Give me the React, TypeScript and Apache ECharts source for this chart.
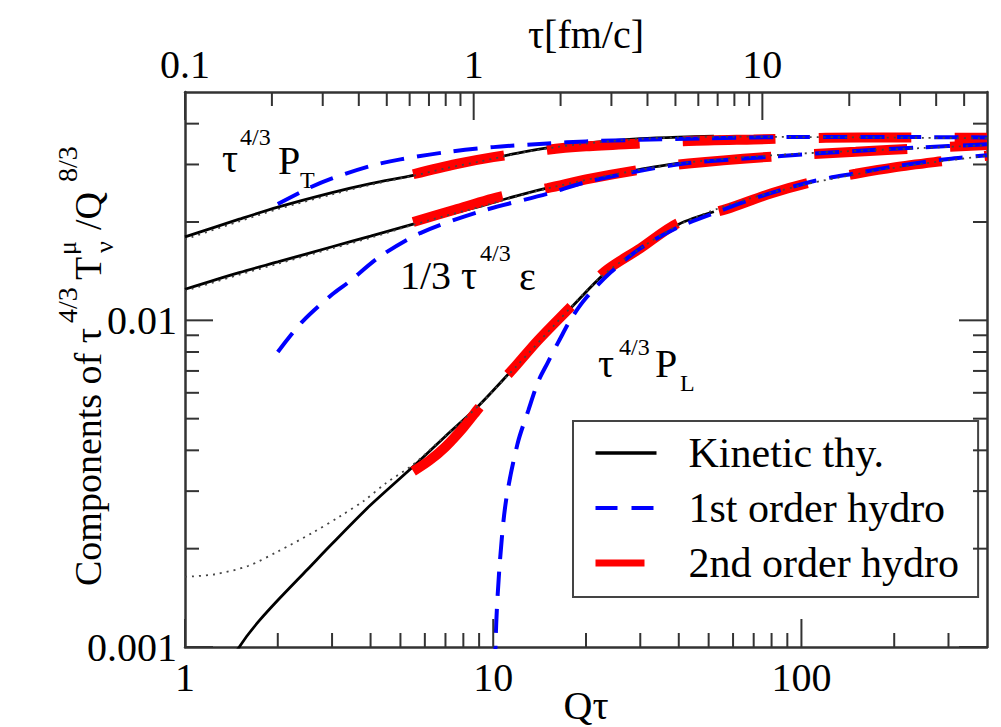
import React, { useEffect, useRef } from 'react';
import * as echarts from 'echarts';

// ---------- axis ranges & ticks ----------
const X_MIN = 1;
const X_MAX = 400;
const TAU_MIN = 0.1;
const TAU_MAX = 60;
const Y_MIN = 0.001;
const Y_MAX = 0.05;

const BOTTOM_MAJOR = [1, 10, 100];
const BOTTOM_MINOR = [2, 3, 4, 5, 6, 7, 8, 9, 20, 30, 40, 50, 60, 70, 80, 90, 200, 300];
const TOP_MAJOR = [0.1, 1, 10];
const TOP_MINOR = [0.2, 0.3, 0.4, 0.5, 0.6, 0.7, 0.8, 0.9, 2, 3, 4, 5, 6, 7, 8, 9, 20, 30, 40, 50];
const Y_MAJOR = [0.001, 0.01];
const Y_MINOR = [0.002, 0.003, 0.004, 0.005, 0.006, 0.007, 0.008, 0.009, 0.02, 0.03, 0.04];

// ---------- kinetic theory (solid black) ----------
const KIN_PT_X = [1, 1.5, 2, 3, 4, 5.5, 7, 9, 12, 16, 22, 30, 40, 52];
const KIN_PT_Y = [0.018, 0.0204, 0.0222, 0.0246, 0.0262, 0.0278, 0.0293, 0.0307, 0.0325, 0.034, 0.0352, 0.036, 0.0364, 0.0366];
const KIN_E_X = [1, 1.5, 2, 3, 4, 5.5, 7, 9, 12, 16, 22, 30, 40, 52];
const KIN_E_Y = [0.01245, 0.014, 0.0151, 0.0168, 0.0181, 0.0197, 0.021, 0.0223, 0.0241, 0.0258, 0.0275, 0.029, 0.0303, 0.0311];
const KIN_L_X = [1.4, 1.5, 1.6, 1.75, 2, 2.5, 3, 4, 5.5, 7, 9, 11.6, 14, 18, 23, 30, 40, 52];
const KIN_L_Y = [0.00091, 0.001, 0.00109, 0.00121, 0.00139, 0.00173, 0.00207, 0.00272, 0.00357, 0.00442, 0.0055, 0.0071, 0.0086, 0.011, 0.0139, 0.0166, 0.0197, 0.0215];

// ---------- dotted black curves ----------
const DOT_X = [1, 1.5, 2, 3, 4, 5.5, 7, 9, 12, 16, 22, 30, 40, 60, 100, 160, 250, 400];
const DOT_PT_Y = [0.0177, 0.0201, 0.0219, 0.0243, 0.026, 0.0277, 0.0292, 0.0306, 0.0324, 0.0339, 0.0351, 0.0359, 0.0363, 0.0365, 0.0364, 0.0363, 0.0362, 0.0361];
const DOT_E_Y = [0.0123, 0.0138, 0.0149, 0.0166, 0.0179, 0.0196, 0.0209, 0.0222, 0.024, 0.0257, 0.0274, 0.0289, 0.0302, 0.0314, 0.0324, 0.0331, 0.0337, 0.0344];
const DOT_L_X = [1, 1.25, 1.6, 2, 2.6, 3.2, 3.8, 4.5, 5.5, 7, 9, 12, 16, 22, 30, 40, 60, 100, 160, 250, 400];
const DOT_L_Y = [0.00164, 0.00167, 0.00177, 0.00196, 0.00224, 0.00252, 0.0028, 0.00318, 0.00362, 0.00444, 0.0055, 0.0073, 0.0098, 0.0134, 0.0166, 0.0196, 0.0228, 0.0259, 0.0283, 0.0302, 0.0319];

// ---------- 1st order hydro (blue dashed) ----------
const H1_PT_X = [2, 2.5, 3, 4, 5, 7, 10, 15, 20, 30, 50, 100, 200, 400];
const H1_PT_Y = [0.0227, 0.0253, 0.0272, 0.0297, 0.0311, 0.0327, 0.0339, 0.0348, 0.0353, 0.0357, 0.0361, 0.0364, 0.0364, 0.0363];
const H1_E_X = [2, 2.4, 3, 3.4, 4.3, 5.8, 9, 15, 20, 30, 43, 80, 150, 240, 400];
const H1_E_Y = [0.008, 0.0099, 0.012, 0.0131, 0.0157, 0.0185, 0.0215, 0.0244, 0.0265, 0.0287, 0.0303, 0.0317, 0.033, 0.0338, 0.0346];
const H1_L_X = [9.9, 10.2, 10.5, 11, 12, 13, 14, 15, 16.5, 18, 20, 24, 30, 40, 55, 75, 110, 150, 200, 300, 400];
const H1_L_Y = [0.0003, 0.0011, 0.0018, 0.0028, 0.0042, 0.0053, 0.0065, 0.0074, 0.0088, 0.0102, 0.0117, 0.014, 0.0166, 0.0193, 0.0217, 0.0241, 0.0267, 0.0282, 0.0296, 0.0312, 0.032];

// ---------- 2nd order hydro (red dashed) ----------
const H2_PT_X = [5.5, 7.6, 10, 15, 20, 30, 43, 70, 120, 200, 400];
const H2_PT_Y = [0.028, 0.0301, 0.0316, 0.0333, 0.0341, 0.0348, 0.0354, 0.0358, 0.0362, 0.0363, 0.0362];
const H2_E_X = [5.5, 7.5, 10.7, 15, 20, 30, 43, 80, 150, 240, 400];
const H2_E_Y = [0.02, 0.0218, 0.024, 0.0254, 0.027, 0.0289, 0.0302, 0.0317, 0.0328, 0.0336, 0.0344];
const H2_L_X = [5.5, 6.2, 7, 8, 9, 10, 11.6, 14, 18, 23, 30, 40, 57, 80, 108, 150, 200, 294, 400];
const H2_L_Y = [0.00345, 0.00372, 0.0041, 0.0047, 0.0054, 0.0061, 0.0071, 0.0087, 0.0111, 0.0141, 0.0166, 0.0199, 0.0219, 0.0245, 0.0265, 0.0281, 0.0294, 0.0308, 0.0319];

const LEGEND_NAMES = ['Kinetic thy.', '1st order hydro', '2nd order hydro'];

const FONT = '"Liberation Serif", "Times New Roman", serif';
const AXIS_COLOR = '#333';
const MAJOR_LEN = 28;
const MINOR_LEN = 14;

const pairs = (xs: number[], ys: number[]) => xs.map((x, i) => [x, ys[i]]);

function tickSeries(side: 'bottom' | 'top' | 'left' | 'right', major: number[], minor: number[]) {
  const items = [
    ...major.map((v) => ({ v, len: MAJOR_LEN })),
    ...minor.map((v) => ({ v, len: MINOR_LEN })),
  ];
  const data = items.map((d) => {
    if (side === 'bottom') return [d.v, Y_MIN, d.len];
    if (side === 'top') return [d.v, Y_MAX, d.len];
    if (side === 'left') return [X_MIN, d.v, d.len];
    return [X_MAX, d.v, d.len];
  });
  return {
    type: 'custom',
    name: 'ticks-' + side,
    xAxisIndex: side === 'top' ? 1 : 0,
    yAxisIndex: 0,
    silent: true,
    clip: false,
    z: 10,
    data,
    renderItem: (_params: any, api: any) => {
      const p = api.coord([api.value(0), api.value(1)]);
      const len = api.value(2);
      let x2 = p[0];
      let y2 = p[1];
      if (side === 'bottom') y2 -= len;
      else if (side === 'top') y2 += len;
      else if (side === 'left') x2 += len;
      else x2 -= len;
      return {
        type: 'line',
        shape: { x1: p[0], y1: p[1], x2, y2 },
        style: { stroke: AXIS_COLOR, lineWidth: 2 },
      };
    },
  };
}

const lineSeries = (name: string, xs: number[], ys: number[], color: string, width: number, type: any, z: number) => ({
  type: 'line',
  name,
  xAxisIndex: 0,
  yAxisIndex: 0,
  data: pairs(xs, ys),
  symbol: 'none',
  showSymbol: false,
  smooth: 0.3,
  color,
  lineStyle: { color, width, type, cap: 'butt' },
  z,
  silent: true,
});

const labelFmt = (v: number) => String(Number(Number(v).toPrecision(6)));

const txt = (x: number, y: number, text: string, size: number) => ({
  type: 'text',
  x,
  y,
  silent: true,
  style: { text, fontSize: size, fontFamily: FONT, fill: '#000', align: 'left', verticalAlign: 'middle' },
});

export default function App() {
  const ref = useRef<HTMLDivElement>(null);

  useEffect(() => {
    if (!ref.current) return;
    const chart = echarts.init(ref.current, undefined, { renderer: 'svg' });

    const axisLine = { show: true, onZero: false, lineStyle: { color: AXIS_COLOR, width: 2.5 } };
    const axisLabel = { fontSize: 40, fontFamily: FONT, color: '#000', formatter: labelFmt, showMaxLabel: false };
    const nameTextStyle = { fontSize: 40, fontFamily: FONT, color: '#000' };

    const option: any = {
      animation: false,
      backgroundColor: '#fff',
      grid: { left: 185, right: 14, top: 92, bottom: 80, containLabel: false, outerBoundsMode: 'none' },
      xAxis: [
        {
          type: 'log', logBase: 10, min: X_MIN, max: X_MAX, position: 'bottom',
          axisLine, axisTick: { show: false }, minorTick: { show: false }, splitLine: { show: false },
          axisLabel: { ...axisLabel, margin: 10 },
          name: 'Qτ', nameLocation: 'middle', nameGap: 38, nameMoveOverlap: false,
          nameTextStyle,
        },
        {
          type: 'log', logBase: 10, min: TAU_MIN, max: TAU_MAX, position: 'top',
          axisLine, axisTick: { show: false }, minorTick: { show: false }, splitLine: { show: false },
          axisLabel: { ...axisLabel, margin: 8 },
          name: 'τ[fm/c]', nameLocation: 'middle', nameGap: 38, nameMoveOverlap: false,
          nameTextStyle,
        },
      ],
      yAxis: [
        {
          type: 'log', logBase: 10, min: Y_MIN, max: Y_MAX, position: 'left',
          axisLine, axisTick: { show: false }, minorTick: { show: false }, splitLine: { show: false },
          axisLabel: { ...axisLabel, margin: 8 },
        },
        {
          type: 'log', logBase: 10, min: Y_MIN, max: Y_MAX, position: 'right',
          axisLine, axisTick: { show: false }, minorTick: { show: false }, splitLine: { show: false },
          axisLabel: { show: false },
        },
      ],
      legend: {
        orient: 'vertical',
        left: 573,
        top: 421,
        backgroundColor: '#fff',
        borderColor: '#444',
        borderWidth: 2,
        borderRadius: 0,
        padding: [11, 19, 13, 19],
        itemGap: 13,
        itemWidth: 61,
        itemHeight: 14,
        selectedMode: false,
        itemStyle: { opacity: 0 },
        textStyle: { fontSize: 42, fontFamily: FONT, color: '#000', padding: [0, 0, 0, 27] },
        data: [
          { name: LEGEND_NAMES[0], lineStyle: { width: 3.5 } },
          { name: LEGEND_NAMES[1], lineStyle: { width: 4, type: [22, 14] } },
          { name: LEGEND_NAMES[2], lineStyle: { width: 7, type: [49, 200] } },
        ],
      },
      series: [
        lineSeries(LEGEND_NAMES[0], KIN_PT_X, KIN_PT_Y, '#000', 2.8, 'solid', 2),
        lineSeries(LEGEND_NAMES[0], KIN_E_X, KIN_E_Y, '#000', 2.8, 'solid', 2),
        lineSeries(LEGEND_NAMES[0], KIN_L_X, KIN_L_Y, '#000', 2.8, 'solid', 2),
        lineSeries(LEGEND_NAMES[2], H2_PT_X, H2_PT_Y, '#ff0000', 10, [93, 43], 3),
        lineSeries(LEGEND_NAMES[2], H2_E_X, H2_E_Y, '#ff0000', 10, [93, 43], 3),
        lineSeries(LEGEND_NAMES[2], H2_L_X, H2_L_Y, '#ff0000', 10, [93, 43], 3),
        lineSeries(LEGEND_NAMES[1], H1_PT_X, H1_PT_Y, '#0000ff', 4, [24, 13], 4),
        lineSeries(LEGEND_NAMES[1], H1_E_X, H1_E_Y, '#0000ff', 4, [24, 13], 4),
        lineSeries(LEGEND_NAMES[1], H1_L_X, H1_L_Y, '#0000ff', 4, [24, 13], 4),
        lineSeries('dotted P_T', DOT_X, DOT_PT_Y, '#444', 1.8, [2, 5], 5),
        lineSeries('dotted e', DOT_X, DOT_E_Y, '#444', 1.8, [2, 5], 5),
        lineSeries('dotted P_L', DOT_L_X, DOT_L_Y, '#444', 1.8, [2, 5], 5),
        tickSeries('bottom', BOTTOM_MAJOR, BOTTOM_MINOR),
        tickSeries('top', TOP_MAJOR, TOP_MINOR),
        tickSeries('left', Y_MAJOR, Y_MINOR),
        tickSeries('right', Y_MAJOR, Y_MINOR),
      ],
      graphic: [
        // tau^{4/3} P_T
        txt(222, 158, 'τ', 40),
        txt(240, 137, '4/3', 24),
        txt(278, 160, 'P', 40),
        txt(300, 180, 'T', 24),
        // 1/3 tau^{4/3} epsilon
        txt(400, 275, '1/3 τ', 40),
        txt(480, 253, '4/3', 24),
        txt(519, 276, 'ε', 40),
        // tau^{4/3} P_L
        txt(598, 363, 'τ', 40),
        txt(619, 347, '4/3', 24),
        txt(655, 363, 'P', 40),
        txt(680, 383, 'L', 24),
        // y-axis title (rotated)
        {
          type: 'group',
          x: 100,
          y: 586,
          rotation: Math.PI / 2,
          silent: true,
          children: [
            txt(0, -12, 'Components of τ', 38),
            txt(263, -33, '4/3', 28),
            txt(306, -12, 'T', 38),
            txt(331, -33, 'μ', 26),
            txt(333, 4, 'ν', 26),
            txt(356, -12, '/Q', 38),
            txt(404, -33, '8/3', 28),
          ],
        },
      ],
    };

    chart.setOption(option);
    return () => chart.dispose();
  }, []);

  return <div ref={ref} style={{ position: 'absolute', left: 0, top: 0, width: 1001, height: 727 }} />;
}
